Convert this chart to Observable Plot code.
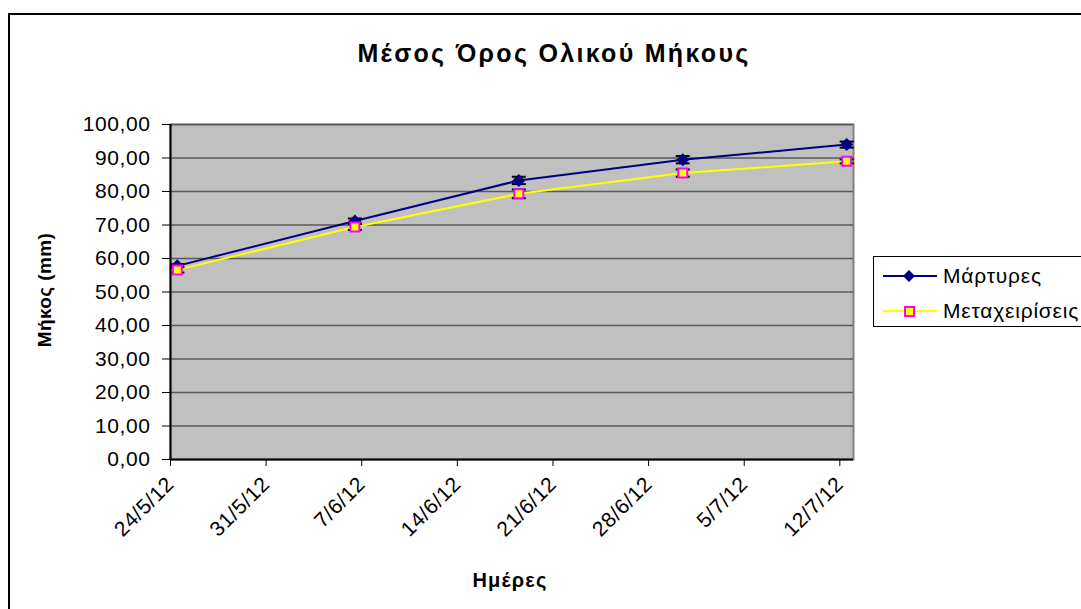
<!DOCTYPE html>
<html><head><meta charset="utf-8">
<script src="https://cdn.jsdelivr.net/npm/d3@7"></script>
<script src="https://cdn.jsdelivr.net/npm/@observablehq/plot@0.6"></script>
<style>
body{margin:0;background:#fff;font-family:"Liberation Sans",Arial,sans-serif;}
#wrap{position:relative;width:1081px;height:609px;overflow:hidden;background:#fff;}
#frame{position:absolute;left:8px;top:13px;width:1200px;height:800px;border:2px solid #000;box-sizing:border-box;}
#chart{position:absolute;left:0;top:0;}
#title{position:absolute;left:554px;top:39px;transform:translateX(-50%);white-space:nowrap;font-weight:bold;font-size:25px;letter-spacing:2.3px;color:#000;}
#ylabel{position:absolute;left:45px;top:290px;transform:translate(-50%,-50%) rotate(-90deg);white-space:nowrap;font-weight:bold;font-size:19px;letter-spacing:0.4px;}
#xlabel{position:absolute;left:510px;top:580px;transform:translate(-50%,-50%);white-space:nowrap;font-weight:bold;font-size:20px;letter-spacing:1.2px;}
#legend{position:absolute;left:873px;top:256px;width:260px;height:71px;border:1px solid #000;box-sizing:border-box;background:#fff;}
.row{position:absolute;left:9px;height:22px;display:flex;align-items:center;font-size:21px;letter-spacing:0.8px;white-space:nowrap;}
.row svg{margin-right:6px;}
</style>
</head><body>
<div id="wrap">
  <div id="frame"></div>
  <div id="chart"></div>
  <div id="title">Μέσος Όρος Ολικού Μήκους</div>
  <div id="ylabel">Μήκος (mm)</div>
  <div id="xlabel">Ημέρες</div>
  <div id="legend"></div>
</div>
<script>
// ---- data ----
const dates = ["2012-05-24","2012-06-06","2012-06-18","2012-06-30","2012-07-12"];
const seriesNames = ["Μάρτυρες","Μεταχειρίσεις"];
const martyres = [57.8, 71.2, 83.3, 89.5, 94.0];
const martyresErr = [0.5, 0.75, 1.1, 1.1, 0.9];
const metax = [56.6, 69.4, 79.3, 85.5, 89.0];
const metaxErr = [0.8, 0.9, 1.3, 1.1, 0.6];
const xTickDates = ["2012-05-24","2012-05-31","2012-06-07","2012-06-14","2012-06-21","2012-06-28","2012-07-05","2012-07-12"];
const xTickLabels = ["24/5/12","31/5/12","7/6/12","14/6/12","21/6/12","28/6/12","5/7/12","12/7/12"];
const yTicks = [0,10,20,30,40,50,60,70,80,90,100];
const yTickLabels = ["0,00","10,00","20,00","30,00","40,00","50,00","60,00","70,00","80,00","90,00","100,00"];

// ---- build ----
const parse = s => new Date(s + "T12:00:00Z");   // points sit in the middle of their day
const parseTick = s => new Date(s + "T00:00:00Z");
const mk = (vals, errs, name) => dates.map((d, i) => ({x: parse(d), y: vals[i], e: errs[i], s: name}));
const A = mk(martyres, martyresErr, seriesNames[0]);
const B = mk(metax, metaxErr, seriesNames[1]);
const ticksX = xTickDates.map(parseTick);

const diamond = {draw(ctx, size){const r = Math.sqrt(size/Math.PI); ctx.moveTo(0,-r); ctx.lineTo(r,0); ctx.lineTo(0,r); ctx.lineTo(-r,0); ctx.closePath();}};
const square = {draw(ctx, size){const r = Math.sqrt(size/Math.PI); ctx.rect(-r,-r,2*r,2*r);}};
const cap = {draw(ctx, size){const r = Math.sqrt(size/Math.PI); ctx.moveTo(-r,0); ctx.lineTo(r,0);}};

const errMarks = (data) => [
  Plot.ruleX(data, {x: "x", y1: d => d.y - d.e, y2: d => d.y + d.e, stroke: "#000", strokeWidth: 1.5}),
  Plot.dot(data, {x: "x", y: d => d.y - d.e, symbol: cap, r: 7, stroke: "#000", strokeWidth: 2}),
  Plot.dot(data, {x: "x", y: d => d.y + d.e, symbol: cap, r: 7, stroke: "#000", strokeWidth: 2})
];

const chart = Plot.plot({
  width: 1081, height: 609,
  marginLeft: 170, marginRight: 228, marginTop: 124, marginBottom: 150,
  style: {fontFamily: "'Liberation Sans', Arial, sans-serif", fontSize: "21px", letterSpacing: "0.6px", background: "transparent", overflow: "visible", color: "#000"},
  x: {type: "utc", domain: [parseTick("2012-05-24"), parseTick("2012-07-13")]},
  y: {domain: [0, 100]},
  marks: [
    Plot.frame({fill: "#c0c0c0", stroke: "#808080", strokeWidth: 2}),
    Plot.gridY(yTicks.slice(1), {stroke: "#5a5a5a", strokeOpacity: 1, strokeWidth: 1.5}),
    Plot.axisY(yTicks, {tickFormat: (d) => yTickLabels[yTicks.indexOf(d)], tickSize: 8, tickPadding: 12, label: null, fontSize: 21, stroke: "#000"}),
    Plot.axisX(ticksX, {tickFormat: (d) => xTickLabels[ticksX.findIndex(t => +t === +d)], tickRotate: -45, tickSize: 7, tickPadding: 14, label: null, fontSize: 21}),
    Plot.ruleX([parseTick("2012-05-24")], {stroke: "#000", strokeWidth: 2}),
    Plot.ruleY([0], {stroke: "#000", strokeWidth: 2}),
    Plot.line(A, {x: "x", y: "y", stroke: "#000080", strokeWidth: 2}),
    ...errMarks(A),
    Plot.dot(A, {x: "x", y: "y", symbol: diamond, r: 6.5, fill: "#000080", stroke: "none"}),
    Plot.line(B, {x: "x", y: "y", stroke: "#ffff00", strokeWidth: 2}),
    ...errMarks(B),
    Plot.dot(B, {x: "x", y: "y", symbol: square, r: 4.5, fill: "#ffff00", stroke: "#ff00ff", strokeWidth: 2})
  ]
});
document.getElementById("chart").appendChild(chart);

// legend
const legend = document.getElementById("legend");
const legendItems = [
  {name: seriesNames[0], line: "#000080", marker: `<path d="M26,3 L32,9 L26,15 L20,9 Z" fill="#000080"/>`},
  {name: seriesNames[1], line: "#ffff00", marker: `<rect x="22" y="5" width="9" height="9" fill="#ffff00" stroke="#ff00ff" stroke-width="2"/>`}
];
legendItems.forEach((it, i) => {
  const row = document.createElement("div");
  row.className = "row";
  row.style.top = (i === 0 ? 8 : 43) + "px";
  row.innerHTML = `<svg width="54" height="18"><line x1="0" y1="9" x2="54" y2="9" stroke="${it.line}" stroke-width="2"/>${it.marker}</svg><span>${it.name}</span>`;
  legend.appendChild(row);
});
</script>
</body></html>
